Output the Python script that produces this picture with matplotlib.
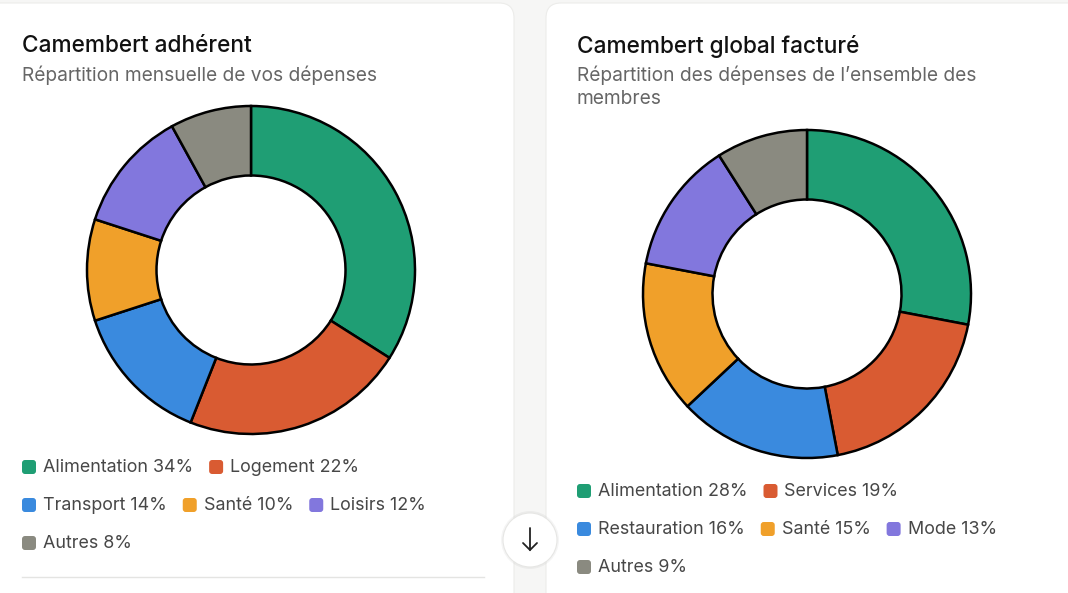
import matplotlib.pyplot as plt
from matplotlib.patches import FancyBboxPatch, Circle

plt.rcParams['font.family'] = ['Inter', 'DejaVu Sans']

# données
colors = ['#1f9e74', '#d95b32', '#3a8ade', '#f0a02a', '#8277dd', '#8a8a80']

left_title = 'Camembert adhérent'
left_subtitle = 'Répartition mensuelle de vos dépenses'
left_labels = ['Alimentation', 'Logement', 'Transport', 'Santé', 'Loisirs', 'Autres']
left_values = [34, 22, 14, 10, 12, 8]
left_rows = [[0, 1], [2, 3, 4], [5]]

right_title = 'Camembert global facturé'
right_subtitle = 'Répartition des dépenses de l’ensemble des\nmembres'
right_labels = ['Alimentation', 'Services', 'Restauration', 'Santé', 'Mode', 'Autres']
right_values = [28, 19, 16, 15, 13, 9]
right_rows = [[0, 1], [2, 3, 4], [5]]

W, H = 1068, 593
fig = plt.figure(figsize=(W / 100, H / 100), dpi=100)
fig.patch.set_facecolor('#f6f6f5')

bg = fig.add_axes([0, 0, 1, 1])
bg.set_xlim(0, W)
bg.set_ylim(H, 0)
bg.axis('off')

# cartes
for x0, x1 in [(-20, 514), (546, 1090)]:
    card = FancyBboxPatch((x0, 3), x1 - x0, 640, boxstyle='round,pad=0,rounding_size=15',
                          facecolor='white', edgecolor='#ececea', linewidth=0.8)
    bg.add_patch(card)


def donut(cx, cy, values):
    r = 164
    m = 172
    ax = fig.add_axes([(cx - m) / W, (H - cy - m) / H, 2 * m / W, 2 * m / H])
    ax.pie(values, colors=colors, startangle=90, counterclock=False, radius=1,
           wedgeprops=dict(width=1 - 94.5 / r, edgecolor='black', linewidth=1.8))
    ax.set_xlim(-m / r, m / r)
    ax.set_ylim(-m / r, m / r)
    ax.set_aspect('equal')


def legend(x0, y0, labels, values, rows):
    fig.canvas.draw()
    rend = fig.canvas.get_renderer()
    for k, row in enumerate(rows):
        y = y0 + k * 38
        x = x0
        for i in row:
            bg.add_patch(FancyBboxPatch((x + 1.5, y - 5.5), 11, 11,
                                        boxstyle='round,pad=1.5,rounding_size=3',
                                        facecolor=colors[i], edgecolor='none'))
            t = bg.text(x + 21, y, f'{labels[i]} {values[i]}%', fontsize=12.9,
                        color='#474747', va='center', ha='left')
            bb = t.get_window_extent(rend)
            x = bb.x1 + 16


def header(x, title, subtitle):
    bg.text(x, 46, title, fontsize=16.3, fontweight='medium', color='#111111',
            va='center', ha='left')
    for j, line in enumerate(subtitle.split('\n')):
        bg.text(x, 75 + j * 24, line, fontsize=13.8, color='#666666', va='center', ha='left')


header(22, left_title, left_subtitle)
header(577, right_title, right_subtitle)

donut(251, 270, left_values)
donut(807, 294, right_values)

legend(22, 467, left_labels, left_values, left_rows)
legend(577, 491, right_labels, right_values, right_rows)

# séparateur
bg.plot([22, 484], [577, 577], color='#e4e4e2', linewidth=1)

# bouton flèche
bg.add_patch(Circle((530, 540), 29, facecolor='#000000', alpha=0.04, edgecolor='none'))
bg.add_patch(Circle((530, 540), 27, facecolor='white', edgecolor='#e6e6e4', linewidth=0.8))
bg.plot([530, 530], [528, 550], color='#222222', linewidth=1.3, solid_capstyle='round')
bg.plot([523, 530, 537], [543, 550, 543], color='#222222', linewidth=1.3,
        solid_capstyle='round', solid_joinstyle='miter')

fig.savefig('out.png', dpi=100, facecolor=fig.get_facecolor())
